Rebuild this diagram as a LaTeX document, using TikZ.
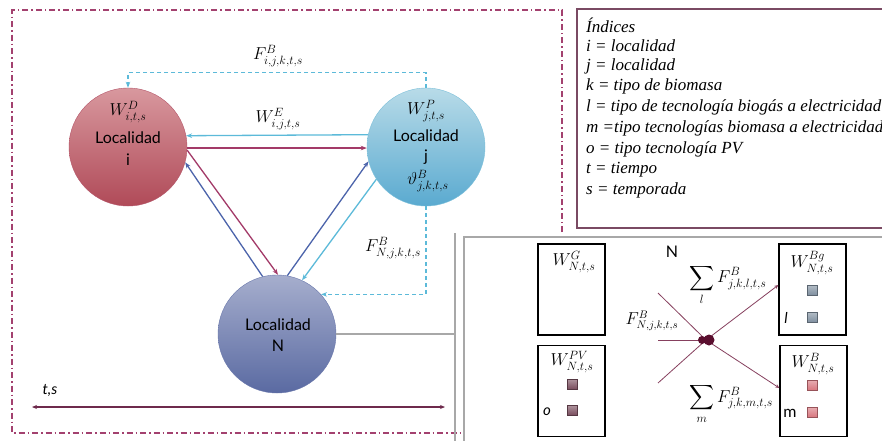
\documentclass[tikz,border=0pt]{standalone}
\usepackage{amsmath}
\usepackage{fontspec}
\setmainfont{Liberation Serif}
\newfontfamily\labfont{Lato}
\usetikzlibrary{arrows.meta}

\definecolor{frameC}{HTML}{A3416F}
\definecolor{legC}{HTML}{7A4A63}
\definecolor{redTop}{HTML}{D8989E}
\definecolor{redBot}{HTML}{B04A58}
\definecolor{redLine}{HTML}{B5566A}
\definecolor{cyanTop}{HTML}{B8DBE8}
\definecolor{cyanBot}{HTML}{5AAAD0}
\definecolor{cyanLine}{HTML}{7CC0DA}
\definecolor{blueTop}{HTML}{A6AECD}
\definecolor{blueBot}{HTML}{5A6AA2}
\definecolor{blueLine}{HTML}{6A78AC}
\definecolor{cyanA}{HTML}{5CBAD9}
\definecolor{maroonA}{HTML}{A33A68}
\definecolor{blueA}{HTML}{4C64AB}
\definecolor{tsC}{HTML}{6E2A4C}
\definecolor{grayC}{HTML}{A8A8A8}
\definecolor{hubC}{HTML}{5A0E2E}
\definecolor{flowC}{HTML}{86405E}
\definecolor{sqPV}{HTML}{7A4E5E}
\definecolor{sqBg}{HTML}{8090A0}
\definecolor{sqB}{HTML}{D8777F}

\tikzset{
  loc/.style={circle, minimum size=118pt, inner sep=0pt},
  ctext/.style={font=\labfont\fontsize{16}{18}\selectfont, inner sep=0pt},
  itext/.style={font=\labfont\itshape\fontsize{15}{17}\selectfont, inner sep=0pt},
  mtext/.style={font=\fontsize{17.5}{20}\selectfont, inner sep=0pt},
  sumtext/.style={font=\fontsize{18}{20}\selectfont, inner sep=0pt, anchor=west},
  tip/.style={-{Stealth[length=6pt,width=4.5pt]}},
  flow/.style={line width=1.3pt, tip},
  dflow/.style={cyanA, line width=1.1pt, dashed, dash pattern=on 4pt off 3pt, tip},
  hubline/.style={flowC, line width=0.8pt},
  varbox/.style={draw=black, line width=1.3pt, minimum width=67pt, minimum height=91pt, inner sep=0pt},
  sq/.style={minimum size=10pt, inner sep=0pt, draw=#1!70!black, line width=0.5pt, top color=#1!60!white, bottom color=#1},
  legtext/.style={font=\itshape\fontsize{17}{20}\selectfont, anchor=west, inner sep=0pt},
}

\begin{document}
\begin{tikzpicture}[x=1pt, y=-1pt]
\useasboundingbox (0,0) rectangle (882,440);
\fill[white] (0,0) rectangle (882,440);

% dash-dot frame around the network
\draw[frameC, line width=1.3pt, dash pattern=on 6pt off 3pt on 1.5pt off 3pt]
  (562,232) -- (562,10) -- (12,10) -- (12,433) -- (462,433);

% index legend
\draw[legC, line width=1.3pt] (577,9) rectangle (900,228);
\node[legtext] (l0) at (586,25) {Índices};
\node[legtext] (l1) at (586,45.5) {i = localidad};
\node[legtext] (l2) at (586,66) {j = localidad};
\node[legtext] (l3) at (586,86.5) {k = tipo de biomasa};
\node[legtext] (l4) at (586,107) {l = tipo de tecnología biogás a electricidad};
\node[legtext] (l5) at (586,128) {m =tipo tecnologías biomasa a electricidad};
\node[legtext] (l6) at (586,149) {o = tipo tecnología PV};
\node[legtext] (l7) at (586,169.5) {t = tiempo};
\node[legtext] (l8) at (586,190) {s = temporada};

% localities
\node[loc, draw=redLine, top color=redTop, bottom color=redBot] (ni) at (128,147) {};
\node[loc, draw=cyanLine, top color=cyanTop, bottom color=cyanBot] (nj) at (426,147) {};
\node[loc, draw=blueLine, top color=blueTop, bottom color=blueBot] (nN) at (277,334) {};

\node[mtext] (wi) at (128,112) {$W^{D}_{i,t,s}$};
\node[ctext] (ti) at (128,138) {Localidad};
\node[ctext] (ti2) at (128,160) {i};

\node[mtext] (wj) at (426,111) {$W^{P}_{j,t,s}$};
\node[ctext] (tj) at (426,136) {Localidad};
\node[ctext] (tj2) at (426,157) {j};
\node[mtext] (vj) at (428,181) {$\vartheta^{B}_{j,k,t,s}$};

\node[ctext] (tN) at (278,325) {Localidad};
\node[ctext] (tN2) at (278,346) {N};

% flows between localities
\draw[flow, cyanA] (nj.168.3) -- (ni.11.7);
\draw[flow, maroonA] (ni.-1) -- (nj.181);
\draw[flow, blueA] (nN.104) -- (ni.-15.7);
\draw[flow, maroonA] (ni.-3) -- (nN.89);
\draw[flow, blueA] (nN.80) -- (nj.194.5);
\draw[flow, cyanA] (nj.213) -- (nN.65);
\draw[dflow] (nj.north) -- ++(0,-15) -| (ni.north);
\draw[dflow] (nj.south) |- (nN.42);

\node[mtext] (fij) at (278,56) {$F^{B}_{i,j,k,t,s}$};
\node[mtext] (wij) at (278,119) {$W^{E}_{i,j,t,s}$};
\node[mtext] (fnj) at (393,248) {$F^{B}_{N,j,k,t,s}$};

% time axis
\node[itext] (ts) at (50,390) {t,s};
\coordinate (ta) at (32,407);
\coordinate (tb) at (445,407);
\draw[tsC, line width=1.1pt, {Stealth[length=5pt,width=4pt]}-{Stealth[length=5pt,width=4pt]}] (ta) -- (tb);

% detail of locality N
\coordinate (bt) at (455,233);
\coordinate (bb) at (455,445);
\coordinate (bm) at (455,334);
\draw[grayC, line width=1.3pt] (bt) -- (bb);
\draw[grayC, line width=1.3pt] (nN.east) -- (bm);
\draw[grayC, line width=1.3pt] (464,450) -- (464,237) -- (900,237);

\node[varbox] (bG) at (571.5,289.5) {};
\node[varbox] (bPV) at (571.5,391) {};
\node[varbox] (bBg) at (812.5,289.5) {};
\node[varbox] (bB) at (813.5,391) {};

\node[mtext] (wG) at (574,262) {$W^{G}_{N,t,s}$};
\node[mtext] (wPV) at (572,362) {$W^{PV}_{N,t,s}$};
\node[mtext] (wBg) at (812,263) {$W^{Bg}_{N,t,s}$};
\node[mtext] (wB) at (813,364) {$W^{B}_{N,t,s}$};

\node[sq=sqPV] (pv1) at (572,384) {};
\node[sq=sqPV] (pv2) at (572,410) {};
\node[itext] (po) at (547,412) {o};
\node[sq=sqBg] (bg1) at (812,290) {};
\node[sq=sqBg] (bg2) at (812,317) {};
\node[itext] (bl) at (786,318) {l};
\node[sq=sqB] (b1) at (812,385) {};
\node[sq=sqB] (b2) at (812,412) {};
\node[ctext] (bm2) at (790,413) {m};

\node[ctext] (hN) at (672,252) {N};

% biomass hub
\coordinate (h) at (706,340);
\coordinate (in1) at (658,293);
\coordinate (in2) at (658,340);
\coordinate (in3) at (658,383);
\draw[hubline] (in1) -- (h);
\draw[hubline] (in2) -- (h);
\draw[hubline] (in3) -- (h);
\draw[hubline, -{Stealth[length=4pt,width=3.5pt]}] (h) -- (bBg.west |- 0,285);
\draw[hubline, -{Stealth[length=4pt,width=3.5pt]}] (h) -- (bB.west |- 0,388);
\fill[hubC] (702,340) circle (4pt);
\fill[hubC] (709,340) circle (5.5pt);
\node[hubC, fill, circle, minimum size=1pt, inner sep=0pt] (hub) at (h) {};

\node[font=\fontsize{16}{18}\selectfont, inner sep=0pt] (fN) at (652,321) {$F^{B}_{N,j,k,t,s}$};
\node[sumtext] (sl) at (689,285) {$\displaystyle\sum_{l} F^{B}_{j,k,l,t,s}$};
\node[sumtext] (sm) at (689,404) {$\displaystyle\sum_{m} F^{B}_{j,k,m,t,s}$};
\end{tikzpicture}
\end{document}
